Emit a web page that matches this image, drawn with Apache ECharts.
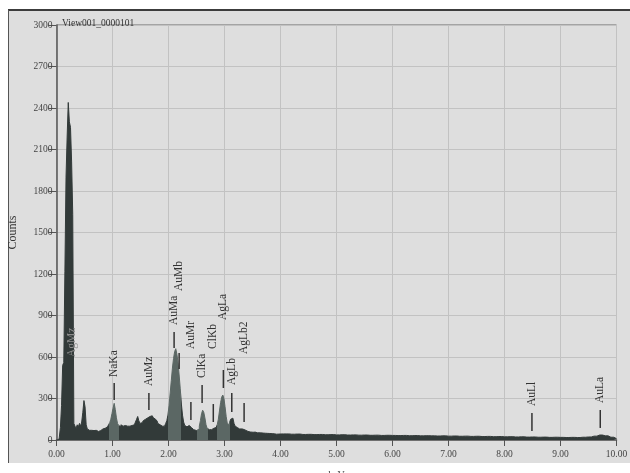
<!DOCTYPE html>
<html>
<head>
<meta charset="utf-8">
<script src="https://cdn.jsdelivr.net/npm/echarts@6/dist/echarts.min.js"></script>
<style>html,body{margin:0;padding:0;background:#fff;}#c{width:630px;height:473px;}</style>
</head>
<body>
<div id="c"></div>
<script>
// Spectrum, low-energy segment: channels every 0.02 keV from 0.00 to 4.00
const lowStart = 0.0;
const lowStep = 0.02;
const lowCounts = [
  0,0,0,20,90,250,540,560,1220,1900,
  2190,2440,2300,2260,2010,1630,120,100,85,110,
  95,120,100,130,200,285,240,110,80,70,
  65,70,62,68,60,65,70,62,75,68,
  72,80,75,85,90,95,100,110,125,150,
  190,230,265,220,160,120,105,95,110,100,
  95,105,98,100,92,100,95,105,100,110,
  120,130,150,170,140,120,115,125,140,150,
  145,160,155,170,165,175,168,160,150,140,
  135,120,110,105,100,105,100,110,120,140,
  180,250,340,430,520,590,640,660,620,560,
  470,370,260,180,130,105,100,95,100,105,
  100,90,85,75,70,68,72,80,100,140,
  190,215,200,160,110,85,75,70,68,75,
  80,85,80,90,110,150,210,270,310,325,
  300,240,170,120,110,130,150,158,145,120,
  100,90,85,80,82,78,80,75,72,70,
  65,62,60,58,60,56,55,57,54,52,
  55,50,52,48,50,47,49,46,48,45,
  47,44,46,43,45,44,42,45,43,42,
  44
];
// High-energy segment: channels every 0.1 keV from 4.1 to 10.0
const highStart = 4.1;
const highStep = 0.1;
const highCounts = [
  44,42,43,40,41,39,40,38,39,37,
  38,36,37,35,36,34,35,33,34,33,
  32,33,31,32,30,31,30,29,30,28,
  29,27,28,26,27,25,26,24,25,23,
  24,22,23,21,22,20,21,19,20,19,
  18,19,18,20,22,28,36,30,20,10
];
// Highlighted regions of interest (keV)
const roiStart = [0.93, 1.99, 2.51, 2.86];
const roiEnd   = [1.12, 2.23, 2.70, 3.10];

// Peak markers
const markerNames  = ['AgMz','NaKa','AuMz','AuMa','AuMb','AuMr','ClKa','ClKb','AgLa','AgLb','AgLb2','AuLl','AuLa'];
const markerEnergy = [0.27, 1.03, 1.65, 2.10, 2.19, 2.40, 2.60, 2.80, 2.98, 3.13, 3.35, 8.49, 9.71];
const markerTop    = [null, 412, 340, 781, 629, 275, 398, 260, 506, 340, 267, 195, 217];
const markerBottom = [null, 289, 217, 665, 513, 145, 267, 130, 376, 202, 130, 65, 87];
const labelBase    = [600, 455, 390, 831, 1077, 658, 448, 658, 867, 398, 622, 246, 267];

// Axis ticks
const xTicks = [0,1,2,3,4,5,6,7,8,9,10];
const yTicks = [0,300,600,900,1200,1500,1800,2100,2400,2700,3000];

const spectrum = [];
lowCounts.forEach((c, i) => spectrum.push([+(lowStart + i * lowStep).toFixed(2), c]));
highCounts.forEach((c, i) => spectrum.push([+(highStart + i * highStep).toFixed(2), c]));

const markerData = markerEnergy.map((e, i) => [e, markerTop[i], markerBottom[i], labelBase[i]]);

const DARK = '#323a39';
const LIGHT = '#5b6764';
const SERIF = '"Liberation Serif", "DejaVu Serif", serif';

const chart = echarts.init(document.getElementById('c'), null, {renderer: 'canvas'});
chart.setOption({
  backgroundColor: '#ffffff',
  animation: false,
  graphic: [
    {type: 'rect', z: -100, shape: {x: 8, y: 10, width: 640, height: 453}, style: {fill: '#dedede'}},
    {type: 'line', z: -99, shape: {x1: 8, y1: 10, x2: 630, y2: 10}, style: {stroke: '#3c3c3c', lineWidth: 2}},
    {type: 'line', z: -99, shape: {x1: 8.5, y1: 10, x2: 8.5, y2: 463}, style: {stroke: '#555', lineWidth: 1}}
  ],
  title: {
    text: 'View001_0000101',
    left: 57, top: 13,
    textStyle: {fontFamily: SERIF, fontSize: 9.5, fontWeight: 'normal', color: '#333'}
  },
  grid: {left: 56.5, right: 13.5, top: 25, bottom: 33, containLabel: false, outerBoundsMode: 'none',
         show: true, borderColor: '#6a6a6a', borderWidth: 1, backgroundColor: 'transparent'},
  visualMap: {
    type: 'piecewise', show: false, dimension: 0, seriesIndex: 0,
    pieces: roiStart.map((s, i) => ({gt: s, lte: roiEnd[i], color: LIGHT})),
    outOfRange: {color: DARK}
  },
  xAxis: {
    type: 'value', min: xTicks[0], max: xTicks[xTicks.length - 1], interval: 1,
    name: 'keV', nameLocation: 'middle', nameGap: 30,
    nameTextStyle: {fontFamily: SERIF, fontSize: 10, color: '#444'},
    axisLine: {lineStyle: {color: '#555', width: 1.5}},
    axisTick: {length: 6, lineStyle: {color: '#555'}},
    axisLabel: {fontFamily: SERIF, fontSize: 9.5, color: '#444', margin: 9, formatter: v => v.toFixed(2)},
    splitLine: {show: true, lineStyle: {color: '#c2c2c2', width: 1}}
  },
  yAxis: {
    type: 'value', min: yTicks[0], max: yTicks[yTicks.length - 1], interval: 300,
    name: 'Counts', nameLocation: 'middle', nameRotate: 90, nameGap: 38,
    nameTextStyle: {fontFamily: SERIF, fontSize: 12, color: '#333'},
    axisLine: {show: true, lineStyle: {color: '#555', width: 1.5}},
    axisTick: {show: true, length: 8, lineStyle: {color: '#555'}},
    axisLabel: {fontFamily: SERIF, fontSize: 9.5, color: '#444', margin: 4, formatter: v => String(v)},
    splitLine: {show: true, lineStyle: {color: '#c2c2c2', width: 1}}
  },
  series: [
    {
      type: 'line', step: 'middle', data: spectrum, symbol: 'none', z: 2,
      lineStyle: {width: 1},
      areaStyle: {opacity: 1}
    },
    {
      type: 'custom', data: markerData, z: 5,
      renderItem: (params, api) => {
        const i = params.dataIndex;
        const e = api.value(0);
        const children = [];
        if (markerTop[i] != null) {
          const p1 = api.coord([e, api.value(1)]);
          const p2 = api.coord([e, api.value(2)]);
          children.push({type: 'line', shape: {x1: p1[0], y1: p1[1], x2: p2[0], y2: p2[1]}, style: {stroke: '#333', lineWidth: 1.5}});
        }
        const pl = api.coord([e, api.value(3)]);
        children.push({
          type: 'text', x: pl[0], y: pl[1], rotation: Math.PI / 2,
          style: {text: markerNames[i], textAlign: 'left', textVerticalAlign: 'middle',
                  font: '11.5px ' + SERIF, fill: i === 0 ? '#8c8c8c' : '#333'}
        });
        return {type: 'group', children};
      }
    }
  ]
});
</script>
</body>
</html>
